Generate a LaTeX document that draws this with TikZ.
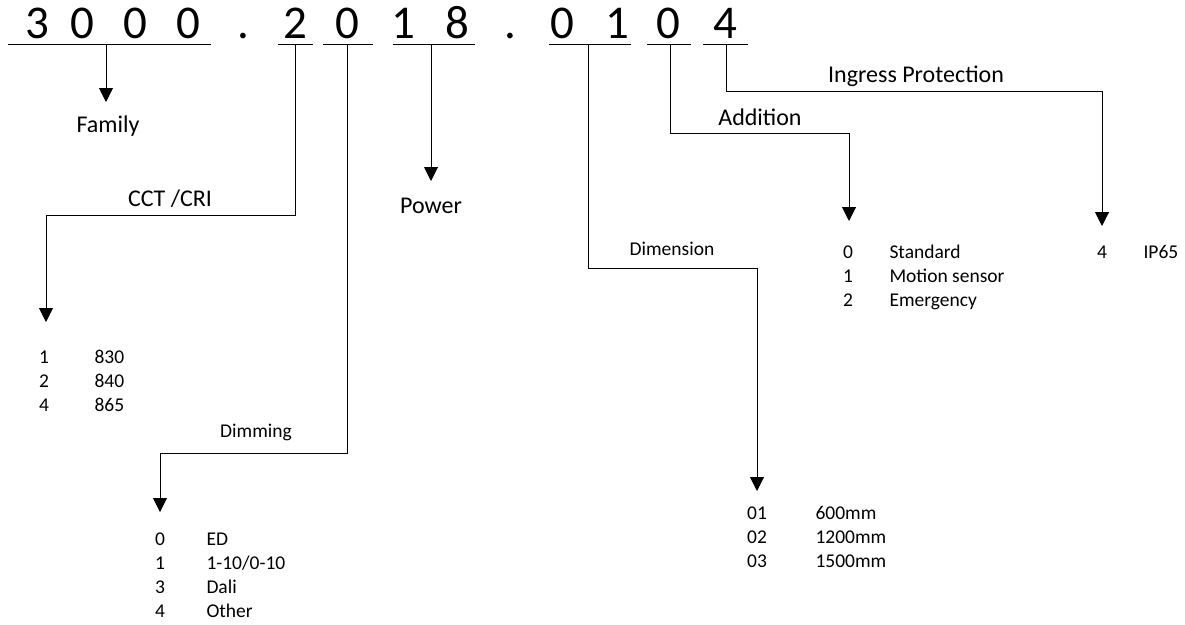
\documentclass[tikz,border=0pt]{standalone}
\usepackage{fontspec}
\setmainfont{Carlito}
\usetikzlibrary{arrows.meta}

\tikzset{
  ziffer/.style={anchor=base, inner sep=0pt, font=\fontsize{47}{50}\selectfont},
  etikett/.style={anchor=base, inner sep=0pt, font=\fontsize{24}{28}\selectfont},
  klein/.style={anchor=base, inner sep=0pt, font=\fontsize{19.5}{23}\selectfont},
  wert/.style={anchor=base west, inner sep=0pt, font=\fontsize{19.5}{23}\selectfont},
}

\begin{document}
\begin{tikzpicture}[>={Triangle[width=14pt,length=14pt]}, x=1pt, y=-1pt, line width=1pt]

\useasboundingbox (0,0) rectangle (1185,624);

% Artikelnummer, Ziffer fuer Ziffer
\node[ziffer] (z1) at (37,38) {3};
\node[ziffer] (z2) at (82,38) {0};
\node[ziffer] (z3) at (135,38) {0};
\node[ziffer] (z4) at (188,38) {0};
\node[ziffer] (p1) at (243,38) {.};
\node[ziffer] (z5) at (295,38) {2};
\node[ziffer] (z6) at (347,38) {0};
\node[ziffer] (z7) at (403,38) {1};
\node[ziffer] (z8) at (457,38) {8};
\node[ziffer] (p2) at (510,38) {.};
\node[ziffer] (z9) at (562,38) {0};
\node[ziffer] (z10) at (617,38) {1};
\node[ziffer] (z11) at (668,38) {0};
\node[ziffer] (z12) at (725,38) {4};

% Unterstriche der Gruppen
\draw (8,44) -- (211,44);
\draw (278,44) -- (313,44);
\draw (323,44) -- (373,44);
\draw (393,44) -- (475,44);
\draw (549,44) -- (631,44);
\draw (647,44) -- (691,44);
\draw (703,44) -- (748,44);

% Anfangs- und Endpunkte der Pfeile
\coordinate (ufam) at (106,44);   \coordinate (tfam) at (106,102);
\coordinate (ucct) at (295,44);   \coordinate (tcct) at (46,322);
\coordinate (udimm) at (347,44);  \coordinate (tdimm) at (160,512);
\coordinate (upow) at (431,44);   \coordinate (tpow) at (431,181);
\coordinate (umass) at (588,44);  \coordinate (tmass) at (757,491);
\coordinate (uadd) at (670,44);   \coordinate (tadd) at (849,221);
\coordinate (uschutz) at (726,44); \coordinate (tschutz) at (1102,226);

\draw[->] (ufam) -- (tfam);
\draw[->] (ucct) -- ++(0,171) -| (tcct);
\draw[->] (udimm) -- ++(0,409) -| (tdimm);
\draw[->] (upow) -- (tpow);
\draw[->] (umass) -- ++(0,224) -| (tmass);
\draw[->] (uadd) -- ++(0,89) -| (tadd);
\draw[->] (uschutz) -- ++(0,47) -| (tschutz);

% Bezeichnungen
\node[etikett] (lfam) at (108,132) {Family};
\node[etikett] (lcct) at (170,206) {CCT /CRI};
\node[klein] (ldimm) at (256,437) {Dimming};
\node[etikett] (lpow) at (431,213) {Power};
\node[klein] (lmass) at (672,255) {Dimension};
\node[etikett] (ladd) at (760,125) {Addition};
\node[etikett] (lschutz) at (916,82) {Ingress Protection};

% Werte CCT /CRI
\node[klein] (c1) at (44,363) {1};  \node[wert] (cw1) at (94,363) {830};
\node[klein] (c2) at (44,387) {2};  \node[wert] (cw2) at (94,387) {840};
\node[klein] (c3) at (44,411) {4};  \node[wert] (cw3) at (94,411) {865};

% Werte Dimming
\node[klein] (d1) at (160,545) {0};  \node[wert] (dw1) at (206,545) {ED};
\node[klein] (d2) at (160,569) {1};  \node[wert] (dw2) at (206,569) {1-10/0-10};
\node[klein] (d3) at (160,593) {3};  \node[wert] (dw3) at (206,593) {Dali};
\node[klein] (d4) at (160,617) {4};  \node[wert] (dw4) at (206,617) {Other};

% Werte Dimension
\node[klein] (m1) at (757,519) {01};  \node[wert] (mw1) at (815,519) {600mm};
\node[klein] (m2) at (757,543) {02};  \node[wert] (mw2) at (815,543) {1200mm};
\node[klein] (m3) at (757,567) {03};  \node[wert] (mw3) at (815,567) {1500mm};

% Werte Addition
\node[klein] (a1) at (848,258) {0};  \node[wert] (aw1) at (889,258) {Standard};
\node[klein] (a2) at (848,282) {1};  \node[wert] (aw2) at (889,282) {Motion sensor};
\node[klein] (a3) at (848,306) {2};  \node[wert] (aw3) at (889,306) {Emergency};

% Wert Ingress Protection
\node[klein] (s1) at (1102,258) {4};  \node[wert] (sw1) at (1143,258) {IP65};

\end{tikzpicture}
\end{document}
